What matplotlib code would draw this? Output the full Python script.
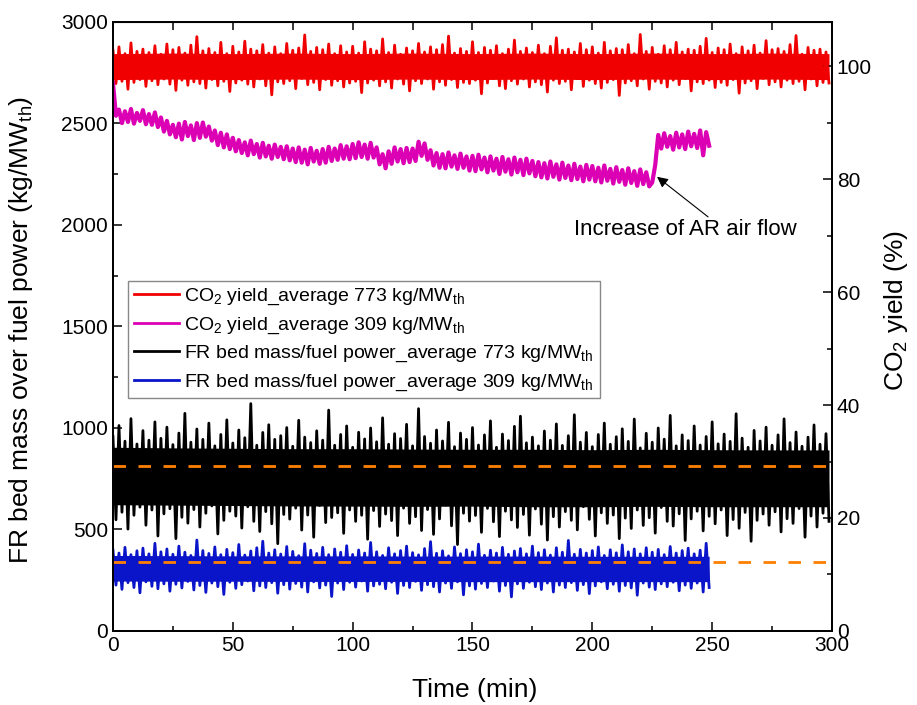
import numpy as np
import matplotlib
matplotlib.use("Agg")
from matplotlib import pyplot as plt
from matplotlib.ticker import MultipleLocator

plt.rcParams['font.family'] = ['Liberation Sans', 'DejaVu Sans']
plt.rcParams['mathtext.fontset'] = 'custom'
plt.rcParams['mathtext.rm'] = 'Liberation Sans'
plt.rcParams['mathtext.it'] = 'Liberation Sans:italic'
plt.rcParams['mathtext.bf'] = 'Liberation Sans:bold'

# sampling step of the logged data (min)
step = 1.25

# CO2 yield (%), 773 kg/MWth case, 0 - 298.75 min
co2_773 = [
    102.8, 96.9, 103.4, 97.3, 102.2, 95.9, 104.1, 97.1, 102.6, 97.6, 103.0, 96.4, 102.4, 97.4, 103.6, 96.7, 102.1, 97.7, 103.9, 96.8,
    102.9, 95.7, 103.3, 97.5, 102.3, 96.6, 103.7, 97.2, 105.2, 96.9, 102.7, 96.1, 103.1, 97.6, 102.4, 96.5, 104.2, 97.3, 102.2, 95.5,
    103.5, 97.0, 102.5, 97.5, 104.4, 96.8, 103.0, 96.3, 102.7, 97.7, 103.8, 96.5, 102.3, 94.9, 103.4, 97.2, 102.2, 96.9, 104.0, 97.4,
    102.8, 96.0, 103.2, 97.8, 105.5, 96.7, 102.6, 97.1, 103.3, 95.8, 102.9, 97.6, 103.9, 96.6, 102.2, 97.4, 103.6, 96.3, 102.5, 97.0,
    103.5, 97.3, 102.3, 95.3, 104.3, 97.0, 103.0, 97.5, 102.7, 96.5, 104.8, 97.2, 102.4, 96.1, 103.7, 97.7, 102.1, 96.8, 103.2, 95.6,
    102.7, 97.4, 104.0, 96.9, 102.5, 97.7, 103.4, 95.9, 102.9, 97.2, 103.8, 96.6, 105.3, 97.6, 102.3, 96.2, 103.1, 97.1, 102.6, 96.9,
    104.3, 97.5, 102.4, 95.1, 103.3, 97.0, 102.8, 97.8, 103.6, 96.5, 102.2, 96.0, 103.0, 97.4, 104.6, 96.8, 102.6, 97.7, 103.2, 96.3,
    102.4, 97.2, 103.7, 96.7, 102.2, 95.4, 103.5, 97.5, 105.0, 96.9, 102.8, 97.3, 103.0, 95.8, 102.5, 97.8, 104.0, 96.4, 102.9, 97.5,
    103.4, 96.9, 102.3, 96.1, 104.2, 97.1, 102.7, 97.6, 103.1, 94.8, 102.9, 97.0, 103.8, 97.4, 102.2, 96.5, 105.6, 97.7, 102.6, 95.9,
    103.3, 97.3, 102.1, 97.0, 103.6, 96.3, 102.9, 97.5, 104.2, 96.7, 102.5, 97.8, 103.0, 95.6, 102.8, 97.2, 103.5, 96.9, 104.9, 97.5,
    102.4, 96.2, 103.2, 97.1, 102.9, 96.6, 103.9, 97.6, 102.2, 95.2, 103.4, 97.0, 102.7, 97.4, 103.7, 96.0, 102.3, 97.8, 104.5, 96.7,
    102.9, 97.2, 103.1, 96.3, 102.6, 97.5, 103.8, 96.9, 105.4, 97.3, 102.1, 95.8, 103.3, 97.7, 102.8, 96.5, 103.0, 97.1, 102.5, 97.0,
]

# CO2 yield (%), 309 kg/MWth case, 0 - 248.75 min
co2_309 = [
    97.0, 91.2, 92.3, 89.9, 92.0, 90.1, 92.4, 89.8, 91.7, 90.3, 92.2, 89.7, 91.5, 89.6, 91.8, 89.2, 90.9, 88.4, 90.3, 87.9,
    89.6, 87.4, 89.8, 87.0, 90.1, 87.6, 89.5, 86.9, 89.9, 87.3, 90.0, 87.5, 89.3, 86.8, 88.6, 86.0, 88.2, 85.6, 87.9, 85.3,
    87.3, 84.9, 86.9, 84.6, 86.5, 84.2, 86.8, 84.4, 86.2, 83.8, 86.4, 84.0, 85.9, 83.6, 86.1, 83.9, 85.7, 83.5, 85.8, 83.3,
    85.4, 83.0, 85.6, 82.9, 85.2, 82.6, 85.5, 83.1, 85.0, 82.7, 85.3, 82.9, 85.7, 83.2, 85.4, 83.4, 86.0, 83.6, 85.8, 83.5,
    86.2, 83.7, 86.5, 83.9, 86.1, 83.6, 86.4, 83.8, 85.6, 82.6, 84.4, 81.9, 84.9, 82.7, 85.6, 83.1, 85.3, 82.8, 85.5, 83.0,
    85.4, 83.2, 86.6, 84.1, 86.3, 83.4, 85.1, 82.4, 84.6, 82.0, 84.4, 81.9, 84.7, 82.2, 84.2, 81.8, 84.5, 82.0, 84.0, 81.5,
    84.1, 81.4, 84.3, 81.7, 83.8, 81.2, 84.0, 81.5, 83.6, 80.9, 83.9, 81.3, 83.5, 80.8, 83.8, 81.2, 83.4, 80.7, 83.6, 81.0,
    83.2, 80.5, 83.0, 80.3, 82.8, 80.1, 83.1, 80.4, 82.6, 79.9, 82.9, 80.2, 82.4, 79.8, 82.7, 80.0, 82.2, 79.6, 82.5, 79.9,
    82.3, 79.6, 82.0, 79.4, 82.4, 79.7, 81.8, 79.2, 82.1, 79.5, 81.6, 79.0, 81.9, 79.3, 81.4, 78.8, 81.7, 79.1, 81.2, 78.7,
    79.4, 82.5, 87.8, 85.4, 88.1, 85.7, 87.6, 85.2, 88.2, 85.6, 87.9, 85.3, 88.4, 85.8, 88.0, 85.5, 88.6, 84.2, 88.3, 85.9,
]

# FR bed mass / fuel power (kg/MWth), 773 case, 0 - 298.75 min
bed_773 = [
    958, 548, 1012, 585, 935, 502, 1046, 570, 921, 610, 987, 521, 940, 596, 1030, 468, 949, 577, 1004, 602,
    918, 455, 975, 560, 1072, 531, 930, 598, 995, 512, 944, 580, 1024, 616, 912, 478, 968, 545, 1040, 590,
    926, 566, 990, 507, 952, 612, 1120, 540, 915, 490, 978, 588, 1016, 528, 944, 430, 962, 574, 1002, 551,
    910, 605, 1038, 497, 955, 571, 928, 462, 986, 618, 940, 534, 1088, 559, 915, 582, 968, 481, 1010, 596,
    905, 540, 979, 570, 946, 452, 1000, 593, 932, 515, 1050, 576, 920, 544, 972, 470, 948, 605, 1018, 530,
    912, 563, 1095, 495, 958, 598, 925, 476, 990, 552, 936, 620, 1028, 518, 908, 426, 975, 580, 944, 541,
    1002, 569, 916, 486, 966, 604, 1035, 538, 905, 465, 970, 590, 938, 547, 1008, 510, 1058, 574, 927, 472,
    955, 601, 912, 526, 985, 448, 940, 563, 1020, 512, 914, 588, 962, 545, 1065, 498, 930, 612, 978, 550,
    908, 468, 968, 582, 1024, 530, 920, 571, 957, 455, 996, 556, 934, 505, 1044, 596, 902, 520, 974, 558,
    930, 482, 1000, 608, 945, 540, 1062, 517, 912, 577, 966, 446, 938, 552, 1010, 590, 916, 493, 958, 565,
    1030, 528, 922, 596, 970, 470, 934, 549, 1070, 506, 950, 584, 905, 442, 988, 545, 936, 576, 1004, 521,
    915, 587, 966, 488, 1045, 553, 928, 530, 980, 603, 910, 462, 955, 566, 1015, 512, 920, 580, 972, 540,
]

# FR bed mass / fuel power (kg/MWth), 309 case, 0 - 248.75 min
bed_309 = [
    398, 226, 384, 205, 412, 238, 376, 214, 395, 188, 408, 242, 380, 220, 432, 208, 390, 232, 404, 196,
    378, 230, 418, 212, 388, 244, 372, 202, 448, 224, 396, 190, 382, 236, 414, 218, 376, 180, 402, 240,
    386, 210, 426, 228, 374, 246, 394, 198, 410, 222, 442, 214, 384, 238, 400, 186, 379, 228, 416, 206,
    392, 234, 371, 216, 430, 192, 398, 242, 382, 212, 412, 226, 376, 170, 404, 236, 388, 204, 420, 240,
    377, 216, 399, 246, 384, 196, 436, 222, 390, 230, 372, 208, 410, 240, 380, 185, 396, 224, 418, 214,
    386, 244, 375, 200, 406, 228, 440, 218, 383, 192, 395, 236, 370, 210, 414, 242, 381, 178, 400, 222,
    390, 206, 428, 234, 373, 214, 398, 246, 384, 196, 412, 224, 378, 168, 394, 232, 406, 210, 380, 240,
    418, 218, 386, 204, 400, 236, 374, 192, 410, 226, 388, 214, 446, 238, 378, 200, 402, 228, 384, 184,
    396, 222, 414, 242, 372, 208, 400, 230, 385, 196, 424, 224, 390, 212, 404, 176, 380, 236, 410, 216,
    388, 204, 402, 232, 376, 218, 416, 240, 384, 198, 396, 226, 408, 210, 380, 236, 398, 192, 432, 214,
]

# dense (solid-looking) core of each noisy signal, read every 25 min
core_t_long = [0, 25, 50, 75, 100, 125, 150, 175, 200, 225, 250, 275, 298.75]
core_t_short = [0, 25, 50, 75, 100, 125, 150, 175, 200, 225, 248.75]
co2_773_lo = [97.6, 97.7, 97.6, 97.7, 97.6, 97.7, 97.6, 97.7, 97.6, 97.7, 97.6, 97.7, 97.6]
co2_773_hi = [102.2, 102.3, 102.2, 102.3, 102.2, 102.3, 102.2, 102.3, 102.2, 102.3, 102.2, 102.3, 102.2]
bed_773_lo = [622, 620, 618, 616, 615, 614, 615, 612, 612, 614, 612, 612, 612]
bed_773_hi = [905, 902, 900, 898, 898, 896, 895, 895, 893, 895, 893, 892, 892]
bed_309_lo = [246, 245, 245, 244, 244, 244, 243, 243, 243, 243, 243]
bed_309_hi = [372, 371, 370, 370, 370, 369, 369, 369, 368, 368, 368]

# dashed average levels (kg/MWth)
avg_levels = [812, 340]

labels = [
    r'CO$_2$ yield_average 773 kg/MW$_{\mathrm{th}}$',
    r'CO$_2$ yield_average 309 kg/MW$_{\mathrm{th}}$',
    r'FR bed mass/fuel power_average 773 kg/MW$_{\mathrm{th}}$',
    r'FR bed mass/fuel power_average 309 kg/MW$_{\mathrm{th}}$',
]

red = '#f00000'
magenta = '#dc00b4'
blue = '#0a14c8'

t_long = np.arange(len(bed_773)) * step
t_short = np.arange(len(bed_309)) * step

fig = plt.figure(figsize=(9.17, 7.05), dpi=100)
ax = fig.add_axes([0.1232, 0.105, 0.7841, 0.8638])
ax2 = ax.twinx()

ax.fill_between(core_t_long, bed_773_lo, bed_773_hi, color='black', lw=0)
ax.fill_between(core_t_short, bed_309_lo, bed_309_hi, color=blue, lw=0)
l3, = ax.plot(t_long, bed_773, color='black', lw=2.0, label=labels[2])
l4, = ax.plot(t_short, bed_309, color=blue, lw=2.0, label=labels[3])
for lev in avg_levels:
    ax.axhline(lev, color='#ff8000', lw=2.0, ls=(0, (4.5, 4.5)), zorder=3)

ax2.fill_between(core_t_long, co2_773_lo, co2_773_hi, color=red, lw=0)
l1, = ax2.plot(t_long, co2_773, color=red, lw=2.0, label=labels[0])
l2, = ax2.plot(t_short, co2_309, color=magenta, lw=3.0, label=labels[1])

ax.set_xlim(0, 300)
ax.set_ylim(0, 3000)
ax2.set_ylim(0, 107.8)

ax.xaxis.set_major_locator(MultipleLocator(50))
ax.xaxis.set_minor_locator(MultipleLocator(25))
ax.yaxis.set_major_locator(MultipleLocator(500))
ax.yaxis.set_minor_locator(MultipleLocator(250))
ax2.yaxis.set_major_locator(MultipleLocator(20))
ax2.yaxis.set_minor_locator(MultipleLocator(10))

for a in (ax, ax2):
    a.tick_params(which='major', direction='in', length=6.5, width=1.1, labelsize=15)
    a.tick_params(which='minor', direction='in', length=3.8, width=1.1)
    for s in a.spines.values():
        s.set_linewidth(1.3)

secx = ax.secondary_xaxis('top')
secx.set_xticks(np.arange(0, 301, 25))
secx.tick_params(direction='in', length=6, width=1.1, labeltop=False)

ax.set_xlabel('Time (min)', fontsize=19)
ax.set_ylabel(r'FR bed mass over fuel power (kg/MW$_{\mathrm{th}}$)', fontsize=19)
ax2.set_ylabel(r'CO$_2$ yield (%)', fontsize=19)
ax.xaxis.set_label_coords(0.503, -0.078)
ax.yaxis.set_label_coords(-0.108, 0.494)
ax2.yaxis.set_label_coords(1.07, 0.527)

ax2.annotate('', xy=(227, 80.4), xytext=(248.3, 73.3),
             arrowprops=dict(arrowstyle='-|>', color='black', lw=0.8,
                             mutation_scale=16, shrinkA=0, shrinkB=0))
ax2.text(239, 71.0, 'Increase of AR air flow', fontsize=16,
         ha='center', va='center')

leg = ax2.legend(handles=[l1, l2, l3, l4], loc='upper left',
                 bbox_to_anchor=(0.021, 0.575), borderaxespad=0,
                 fontsize=14, handlelength=2.3, handletextpad=0.3,
                 labelspacing=0.42, borderpad=0.3, fancybox=False,
                 edgecolor='#888888', framealpha=1)
leg.get_frame().set_linewidth(1.0)
for h in leg.legend_handles:
    h.set_linewidth(2.0)

fig.savefig('out.png', dpi=100)
